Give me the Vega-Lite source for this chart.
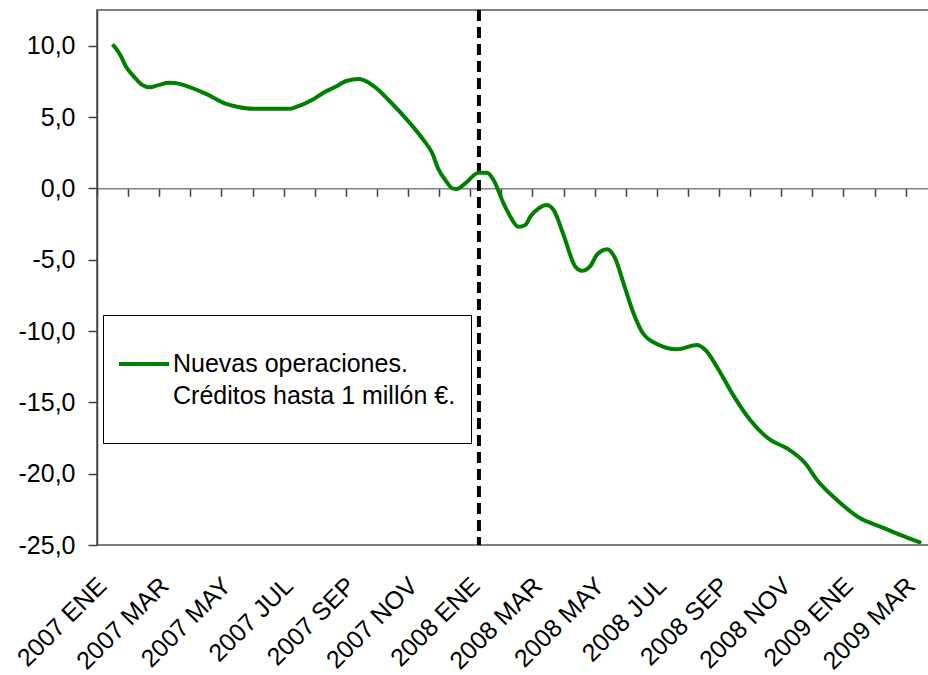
{
  "$schema": "https://vega.github.io/schema/vega-lite/v6.json",
  "width": 832,
  "height": 535,
  "autosize": {"type": "none"},
  "padding": {"left": 97, "top": 10, "right": -1, "bottom": 130},
  "background": "white",
  "config": {
    "view": {"stroke": "#808080", "strokeWidth": 2},
    "font": "Liberation Sans",
    "locale": {"number": {"decimal": ",", "thousands": ".", "grouping": [3], "currency": ["", " €"], "minus": "-"}},
    "style": {"guide-label": {"lineHeight": 32}}
  },
  "datasets": {
    "serie": [
      {"t": 0, "v": 10.1}, {"t": 0.25, "v": 9.35}, {"t": 0.44, "v": 8.5}, {"t": 0.68, "v": 7.85},
      {"t": 0.95, "v": 7.25}, {"t": 1.19, "v": 7.08}, {"t": 1.5, "v": 7.25}, {"t": 1.8, "v": 7.4},
      {"t": 2.0, "v": 7.38}, {"t": 2.5, "v": 7.08}, {"t": 3.03, "v": 6.6}, {"t": 3.68, "v": 5.9},
      {"t": 4.0, "v": 5.72}, {"t": 4.53, "v": 5.58}, {"t": 5.0, "v": 5.58}, {"t": 5.71, "v": 5.58},
      {"t": 5.93, "v": 5.72}, {"t": 6.41, "v": 6.19}, {"t": 6.78, "v": 6.7}, {"t": 7.15, "v": 7.1},
      {"t": 7.54, "v": 7.54}, {"t": 7.91, "v": 7.66}, {"t": 8.07, "v": 7.59}, {"t": 8.45, "v": 7.08},
      {"t": 8.93, "v": 6.07}, {"t": 9.57, "v": 4.55}, {"t": 10.0, "v": 3.38}, {"t": 10.27, "v": 2.5},
      {"t": 10.48, "v": 1.33}, {"t": 10.7, "v": 0.58}, {"t": 10.91, "v": 0.02}, {"t": 11.07, "v": -0.05},
      {"t": 11.34, "v": 0.35}, {"t": 11.77, "v": 1.09}, {"t": 12.04, "v": 1.09}, {"t": 12.25, "v": 0.58},
      {"t": 12.57, "v": -1.05}, {"t": 12.79, "v": -1.99}, {"t": 13.05, "v": -2.69}, {"t": 13.27, "v": -2.57},
      {"t": 13.43, "v": -1.99}, {"t": 13.7, "v": -1.4}, {"t": 13.95, "v": -1.17}, {"t": 14.18, "v": -1.52},
      {"t": 14.5, "v": -3.27}, {"t": 14.88, "v": -5.49}, {"t": 15.09, "v": -5.77}, {"t": 15.36, "v": -5.45},
      {"t": 15.57, "v": -4.67}, {"t": 15.9, "v": -4.27}, {"t": 16.16, "v": -4.91}, {"t": 16.43, "v": -6.66},
      {"t": 16.75, "v": -8.76}, {"t": 17.02, "v": -10.05}, {"t": 17.5, "v": -10.91}, {"t": 18.15, "v": -11.28},
      {"t": 18.79, "v": -10.98}, {"t": 19.06, "v": -11.33}, {"t": 19.49, "v": -12.73}, {"t": 19.92, "v": -14.37},
      {"t": 20.5, "v": -16.24}, {"t": 21.15, "v": -17.64}, {"t": 21.68, "v": -18.22}, {"t": 22.27, "v": -19.27},
      {"t": 22.65, "v": -20.44}, {"t": 23.29, "v": -21.84}, {"t": 24.04, "v": -23.13}, {"t": 24.68, "v": -23.71},
      {"t": 25.3, "v": -24.27}, {"t": 26.0, "v": -24.85}
    ],
    "marca": [{"t": 11.78}]
  },
  "resolve": {"axis": {"x": "independent"}},
  "layer": [
    {
      "data": {"name": "marca"},
      "mark": {"type": "rule", "color": "black", "strokeWidth": 4, "strokeDash": [11, 6]},
      "encoding": {
        "x": {
          "field": "t", "type": "quantitative",
          "scale": {"domain": [-0.5, 26.25], "nice": false, "zero": false},
          "axis": {
            "orient": "bottom", "offset": -356.7, "title": null, "labels": false,
            "values": [-0.5, 0.5, 1.5, 2.5, 3.5, 4.5, 5.5, 6.5, 7.5, 8.5, 9.5, 10.5, 11.5, 12.5, 13.5, 14.5, 15.5, 16.5, 17.5, 18.5, 19.5, 20.5, 21.5, 22.5, 23.5, 24.5, 25.5],
            "domain": true, "domainColor": "#808080", "domainWidth": 1.5,
            "ticks": true, "tickSize": 8, "tickColor": "#404040", "tickWidth": 1.5,
            "grid": false
          }
        }
      }
    },
    {
      "data": {"name": "serie"},
      "transform": [{"calculate": "'Nuevas operaciones. Créditos hasta 1 millón €.'", "as": "serie"}],
      "mark": {"type": "line", "strokeWidth": 4, "interpolate": "monotone"},
      "encoding": {
        "x": {
          "field": "t", "type": "quantitative",
          "scale": {"domain": [-0.5, 26.25], "nice": false, "zero": false},
          "axis": {
            "orient": "bottom", "title": null,
            "values": [0, 2, 4, 6, 8, 10, 12, 14, 16, 18, 20, 22, 24, 26],
            "labelExpr": "(2007 + floor(datum.value / 12)) + ' ' + ['ENE','FEB','MAR','ABR','MAY','JUN','JUL','AGO','SEP','OCT','NOV','DIC'][datum.value % 12]",
            "labelAngle": -45, "labelAlign": "right", "labelBaseline": "alphabetic",
            "labelPadding": 42, "labelOffset": -5, "labelFontSize": 25, "labelFont": "Liberation Sans", "labelColor": "black",
            "labelOverlap": false, "labelBound": false, "labelFlush": false,
            "ticks": false, "tickSize": 0, "domain": false, "grid": false
          }
        },
        "y": {
          "field": "v", "type": "quantitative",
          "scale": {"domain": [-25, 12.5], "nice": false, "zero": false},
          "axis": {
            "title": null, "values": [-25, -20, -15, -10, -5, 0, 5, 10], "format": ".1f",
            "labelFontSize": 25, "labelFont": "Liberation Sans", "labelColor": "black", "labelPadding": 13,
            "tickSize": 9, "tickColor": "#404040", "tickWidth": 1.5,
            "domainColor": "#404040", "domainWidth": 1.5, "grid": false
          }
        },
        "color": {
          "field": "serie", "type": "nominal",
          "scale": {"range": ["#008000"]},
          "legend": {
            "orient": "none", "legendX": 6, "legendY": 305,
            "title": " ", "titleOrient": "bottom", "titleFontSize": 10, "titlePadding": 9,
            "strokeColor": "black", "fillColor": "white", "padding": 15,
            "symbolType": "M-0.78125,0H0.78125", "symbolSize": 4096, "symbolStrokeWidth": 4, "symbolOffset": -8,
            "labelFontSize": 25, "labelFont": "Liberation Sans", "labelColor": "black",
            "labelOffset": -5, "labelLimit": 0, "labelBaseline": "middle",
            "labelExpr": "['Nuevas operaciones.', 'Créditos hasta 1 millón €.']"
          }
        }
      }
    }
  ]
}
